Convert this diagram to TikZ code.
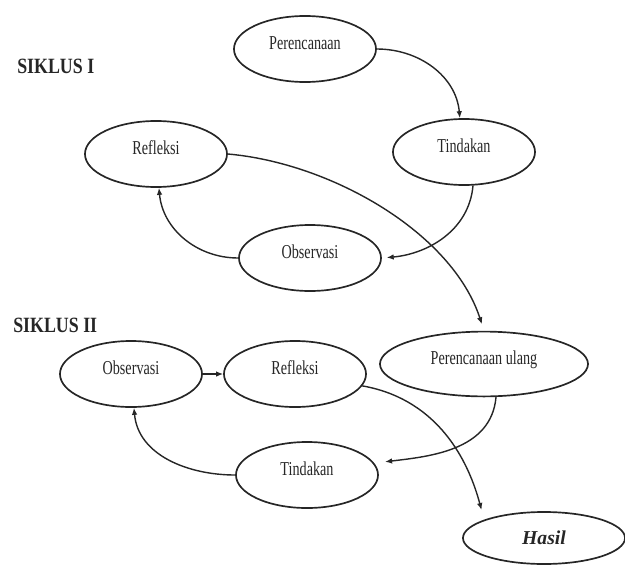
\documentclass[tikz,border=0pt]{standalone}
\usepackage{fontspec}
\setmainfont{Liberation Serif}
\newfontfamily\tahapfont[FakeStretch=0.72]{Liberation Serif}
\newfontfamily\judulfont[FakeStretch=0.82]{Liberation Serif}
\usetikzlibrary{shapes.geometric}
\usetikzlibrary{arrows.meta}
\colorlet{mygray}{black!85}
\tikzset{
  tahap/.style={ellipse,draw=mygray,line width=1.2pt,inner sep=1pt,
    minimum width=3.55cm,minimum height=1.65cm,text=mygray,
    text height=10pt,text depth=10pt,
    font=\tahapfont\fontsize{14}{16}\selectfont},
  tahap lebar/.style={tahap,minimum width=5.2cm,minimum height=1.62cm},
  tahap hasil/.style={tahap,minimum width=4.05cm,minimum height=1.3cm,
    text height=,text depth=,
    font=\bfseries\itshape\fontsize{14}{16}\selectfont},
  judul/.style={anchor=base west,inner sep=0pt,text=mygray,
    font=\judulfont\bfseries\fontsize{15.5}{18}\selectfont},
  panah/.style={->,line width=1pt,mygray}
}

\begin{document}
\begin{tikzpicture}[>={Latex[length=5pt,width=4pt]},x=0.025cm,y=-0.025cm]
\useasboundingbox (0,0) rectangle (625,566);
% siklus I
\path
(17,73)   node[judul] (s1) {SIKLUS I}
(305,49)  node[tahap] (P1) {Perencanaan}
(464,152) node[tahap] (T1) {Tindakan}
(310,258) node[tahap] (O1) {Observasi}
(156,154) node[tahap] (R1) {Refleksi};
% siklus II
\path
(13,332)  node[judul] (s2) {SIKLUS II}
(484,364) node[tahap lebar] (P2) {Perencanaan ulang}
(307,475) node[tahap] (T2) {Tindakan}
(131,374) node[tahap] (O2) {Observasi}
(295,374) node[tahap] (R2) {Refleksi}
(544,538) node[tahap hasil] (H) {Hasil};
\draw[panah] (P1.east) to[out=0,in=95] (T1.97);
\draw[panah,shorten >=0.12cm] (T1.-75) to[out=-95,in=5] (O1.east);
\draw[panah] (O1.west) to[out=180,in=-85] (R1.-85);
\draw[panah,shorten >=0.17cm] (R1.east) to[out=-5,in=108,looseness=0.85] (P2.north);
\draw[panah] (O2.east)--(R2.west);
\draw[panah,shorten >=0.25cm] (R2.-10) to[out=-10,in=105] (H.163);
\draw[panah,shorten >=0.27cm] (P2.-70) to[out=-95,in=7] (T2.10);
\draw[panah] (T2.west) to[out=180,in=-85] (O2.-85);
\end{tikzpicture}
\end{document}
